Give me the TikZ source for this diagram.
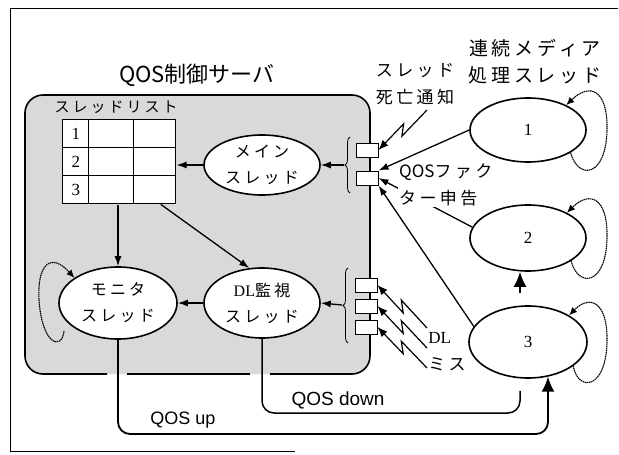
\documentclass[tikz,border=0pt]{standalone}
\usepackage{fontspec}
\setmainfont{Liberation Serif}
\setsansfont{Liberation Sans}
\newfontfamily\jp{Noto Sans CJK JP}
\newfontfamily\jpwide{Noto Sans CJK JP}[LetterSpace=20]
\usetikzlibrary{matrix, decorations.pathreplacing}
\usetikzlibrary{shapes.geometric}
\usetikzlibrary{calc}
\usetikzlibrary{arrows.meta}
\newcommand{\pxsize}[2]{\fontsize{#1}{#2}\selectfont}

\begin{document}
\begin{tikzpicture}[x=1pt, y=-1pt,
    thread/.style={draw, ellipse, line width=1.6pt, fill=white, inner sep=0pt, align=center, font=\jpwide\pxsize{16}{26}},
    port/.style={draw, fill=white, line width=1pt, minimum width=22pt, minimum height=14pt, inner sep=0pt},
    flow/.style={-{Latex[length=10pt, width=7pt]}, line width=1.3pt},
    bigflow/.style={-{Latex[length=15pt, width=13pt]}, line width=1.8pt},
    bolt/.style={-{Latex[length=10pt, width=8pt]}, line width=1.2pt},
    loopline/.style={dash pattern=on 1.5pt off 0.6pt, line width=1.1pt, -{Latex[length=8pt, width=7pt]}},
    note/.style={font=\jpwide\pxsize{17}{27}, inner sep=1pt}
  ]
  \useasboundingbox (0,0) rectangle (619,455);
  % frame
  \draw[line width=1pt] (618,8) -- (10,8) -- (10,451) -- (295,451);

  % server box
  \fill[gray!30, rounded corners=18] (25,95) rectangle (370,374);
  \draw[line width=1.6pt, rounded corners=18] (107,374) -- (25,374) -- (25,95) -- (370,95) -- (370,374) -- (270,374);
  \draw[line width=1.6pt] (127,374) -- (250,374);
  \node[font=\jp\pxsize{22}{22}] (title) at (197,75) {QOS制御サーバ};
  \node[font=\jpwide\pxsize{15}{15}] (listlbl) at (116,107) {スレッドリスト};

  % thread list
  \matrix (list) [matrix of nodes, nodes in empty cells, anchor=north west, inner sep=0pt,
      nodes={draw, fill=white, line width=1.2pt, anchor=center, minimum height=28pt, inner sep=0pt, font=\rmfamily\pxsize{17}{17}},
      column 1/.style={nodes={minimum width=26pt}},
      column 2/.style={nodes={minimum width=45pt}},
      column 3/.style={nodes={minimum width=42pt}},
      column sep=-1.2pt, row sep=-1.2pt] at (62,119) {
    1 & & \\
    2 & & \\
    3 & & \\
  };

  % threads
  \node[thread, minimum width=116pt, minimum height=60pt] (main) at (262,165) {メイン\\スレッド};
  \node[thread, minimum width=116pt, minimum height=70pt] (dl) at (262,303) {{\rmfamily DL}監視\\スレッド};
  \node[thread, minimum width=118pt, minimum height=72pt] (mon) at (118,303) {モニタ\\スレッド};
  \node[thread, minimum width=116pt, minimum height=64pt, font=\rmfamily\pxsize{17}{17}] (e1) at (528,130) {1};
  \node[thread, minimum width=116pt, minimum height=66pt, font=\rmfamily\pxsize{17}{17}] (e2) at (528,238) {2};
  \node[thread, minimum width=118pt, minimum height=72pt, font=\rmfamily\pxsize{17}{17}] (e3) at (528,342) {3};
  \node[font=\jpwide\pxsize{19}{27}, align=center] (medialbl) at (535,62) {連続メディア\\処理スレッド};

  % ports
  \node[port] (p1) at (367,150) {};
  \node[port] (p2) at (367,178) {};
  \node[port] (q1) at (366,285) {};
  \node[port] (q2) at (366,306) {};
  \node[port] (q3) at (366,327) {};
  \draw[decorate, decoration={brace, amplitude=5pt}, line width=0.8pt] (350,193) -- (350,137);
  \draw[decorate, decoration={brace, amplitude=5pt}, line width=0.8pt] (348,343) -- (348,268);
  \coordinate (bu) at (344,165);
  \coordinate (bl) at (342,305);

  % inside the server
  \draw[flow] (main.west) -- (main.west -| list.east);
  \draw[flow] (list.south -| mon.north) -- (mon.north);
  \draw[flow] ([xshift=6pt]list-3-3.south) -- (dl.110);
  \draw[flow] (dl.west) -- (mon.east);
  \draw[flow] (bu) -- (main.east);
  \draw[flow] (bl) -- (dl.east);
  \draw[loopline] ($(mon.center)+(-54,28)$) .. controls ($(mon.center)+(-56,48)$) and ($(mon.center)+(-76,42)$) .. ($(mon.center)+(-79,-3)$)
    .. controls ($(mon.center)+(-81,-41)$) and ($(mon.center)+(-66,-50)$) .. (mon.150);

  % media threads
  \foreach \e in {e1,e2,e3}
    \draw[loopline] (\e.-28) .. controls ($(\e.center)+(50,50)$) and ($(\e.center)+(78,48)$) .. ($(\e.center)+(79,0)$)
      .. controls ($(\e.center)+(80,-40)$) and ($(\e.center)+(62,-48)$) .. (\e.33);
  \draw[bigflow, shorten <=12pt] ([xshift=-8pt]e3.north) -- ([xshift=-8pt]e2.south);
  \draw[flow] (e1.west) -- (p2.north east);
  \draw[flow] (e2.169) -- (p2.east);
  \draw[flow] (e3.164) -- (p2.south east);
  \node[note, fill=white, align=left, anchor=north west] (qoslbl) at (398,163) {{\jp QOS}ファク\\ター申告};

  % notices
  \node[note, align=center] (deathlbl) at (415,84) {スレッド\\死亡通知};
  \coordinate (s0) at (427,110);
  \draw[bolt] (s0) -- ($(s0)!0.58!(p1.east)+(3,3)$) -- ($(s0)!0.42!(p1.east)+(-3,-3)$) -- (p1.east);
  \foreach \i/\yy in {1/328, 2/348, 3/368} {
    \coordinate (d\i) at (427,\yy);
    \draw[bolt] (d\i) -- ($(d\i)!0.58!(q\i.east)+(3,-3)$) -- ($(d\i)!0.42!(q\i.east)+(-3,3)$) -- (q\i.east);
  }
  \node[align=left, font=\rmfamily\pxsize{17}{27}] (dlmiss) at (447,352) {DL\\{\jpwide ミス}};

  % QOS up / down
  \coordinate (upy) at (0,434);
  \coordinate (downy) at (0,413);
  \coordinate (dnend) at ($(e3.south)+(-8,12)$);
  \draw[bigflow, rounded corners=12] (mon.south) |- (e3.-60 |- upy) -- (e3.-60);
  \draw[line width=1.5pt, rounded corners=12] (dl.south) |- (dnend |- downy) -- (dnend);
  \node[font=\sffamily\pxsize{18}{18}] (uplbl) at (183,420) {QOS up};
  \node[font=\sffamily\pxsize{19}{19}] (downlbl) at (338,400) {QOS down};
\end{tikzpicture}
\end{document}
